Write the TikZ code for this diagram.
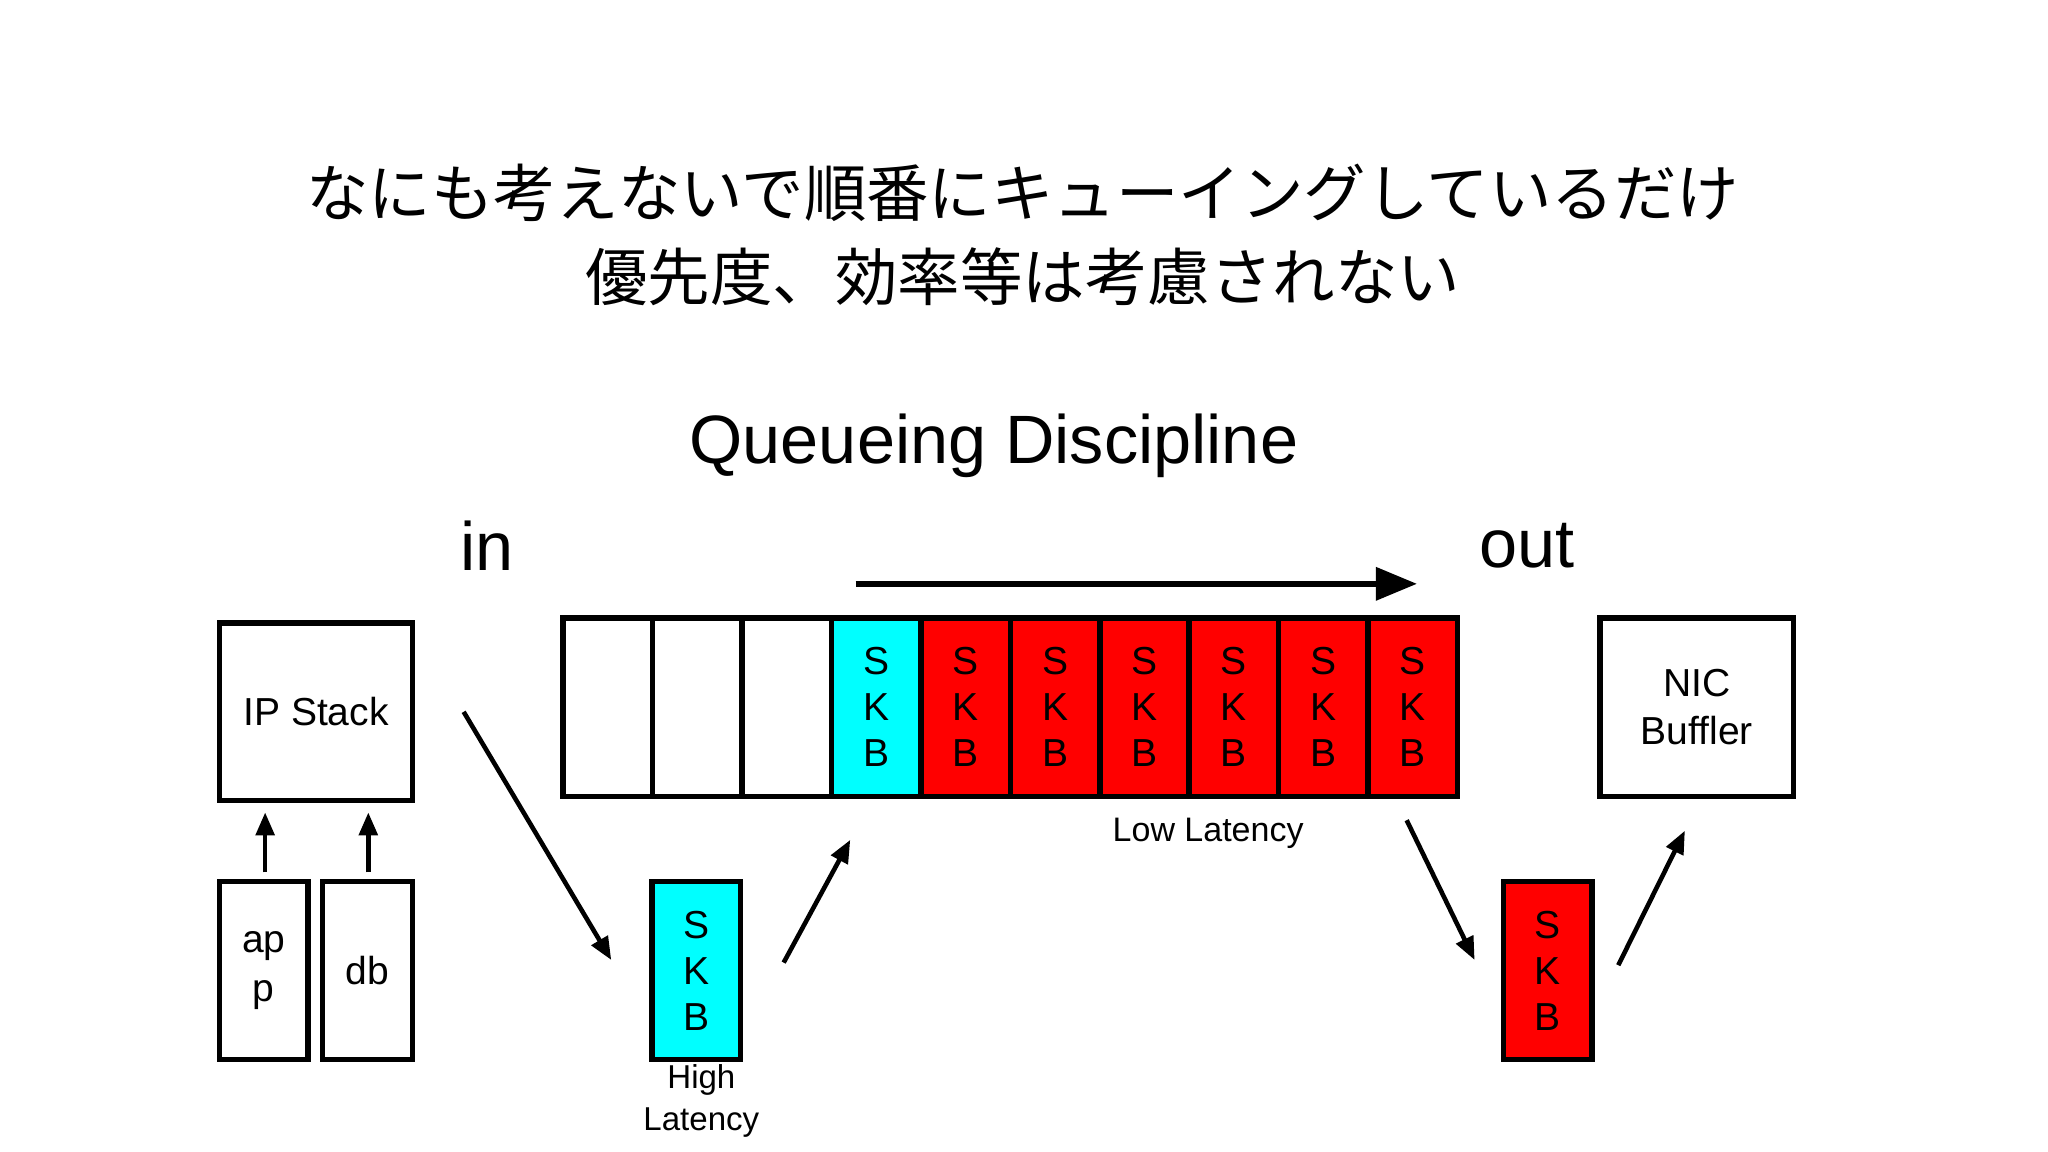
\documentclass[tikz,border=0pt]{standalone}
\usepackage{fontspec}
\setmainfont{Liberation Sans}
\newfontfamily\cjk{Noto Sans CJK JP}
\usetikzlibrary{arrows.meta}
\definecolor{skbcyan}{RGB}{0,255,255}
\definecolor{skbred}{RGB}{255,0,0}
\begin{document}
\begin{tikzpicture}[x=0.01cm,y=-0.01cm,
  box/.style={draw=black,line width=1.2pt,inner sep=0pt},
  arr/.style={-{Triangle[length=5pt,width=4pt]},line width=1pt},
  lbl/.style={font=\fontsize{8.5}{10.5}\selectfont,align=center},
  skb/.style={midway,align=center,font=\fontsize{8.5}{10}\selectfont}]
\useasboundingbox[fill=white] (0,0) rectangle (1568,882);
\node[font=\cjk\fontsize{13.6}{18}\selectfont,align=center] (t1) at (783,148) {なにも考えないで順番にキューイングしているだけ};
\node[font=\cjk\fontsize{13.6}{18}\selectfont,align=center] (t2) at (783,212) {優先度、効率等は考慮されない};
\node[font=\fontsize{14.9}{16}\selectfont] (qd) at (761,341) {Queueing Discipline};
\node[font=\fontsize{14.9}{16}\selectfont] (in) at (373,418) {in};
\node[font=\fontsize{14.9}{16}\selectfont] (out) at (1169,418) {out};
\coordinate (a1) at (655,447); \coordinate (a2) at (1085,447);
\draw[-{Triangle[length=9pt,width=7pt]},line width=1.4pt] (a1) -- (a2);
% queue
\foreach \i in {0,1,2}{\draw[box] ({431+68.5*\i},473) rectangle ++(68.5,137);}
\draw[box,fill=skbcyan] ({431+68.5*3},473) rectangle ++(68.5,137) node[skb] {S\\K\\B};
\foreach \i in {4,...,9}{\draw[box,fill=skbred] ({431+68.5*\i},473) rectangle ++(68.5,137) node[skb] {S\\K\\B};}
\node[font=\fontsize{7.4}{8}\selectfont] (ll) at (925,638) {Low Latency};
% left
\draw[box] (168,477) rectangle (316,613) node[midway,lbl] (ipt) {IP Stack};
\draw[box] (168,675) rectangle (236,811) node[midway,lbl] (ap) {ap\\p};
\draw[box] (247,675) rectangle (316,811) node[midway,lbl] (db) {db};
\coordinate (u1) at (203,668); \coordinate (u2) at (203,622);
\coordinate (v1) at (282,668); \coordinate (v2) at (282,622);
\draw[arr] (u1) -- (u2); \draw[arr] (v1) -- (v2);
\coordinate (b1) at (355,545); \coordinate (b2) at (468,735);
\draw[arr] (b1) -- (b2);
\draw[box,fill=skbcyan] (499,675) rectangle (567,811) node[skb] (hs) {S\\K\\B};
\node[font=\fontsize{7.2}{9}\selectfont,align=center] (hl) at (537,843) {High\\Latency};
\coordinate (c1) at (600,737); \coordinate (c2) at (651,643);
\draw[arr] (c1) -- (c2);
% right
\coordinate (d1) at (1077,628); \coordinate (d2) at (1129,735);
\draw[arr] (d1) -- (d2);
\draw[box,fill=skbred] (1151,675) rectangle (1219,811) node[skb] (rs) {S\\K\\B};
\coordinate (e1) at (1239,739); \coordinate (e2) at (1290,636);
\draw[arr] (e1) -- (e2);
\draw[box] (1225,473) rectangle (1373,610) node[midway,lbl] (nic) {NIC\\Buffler};
\end{tikzpicture}
\end{document}
